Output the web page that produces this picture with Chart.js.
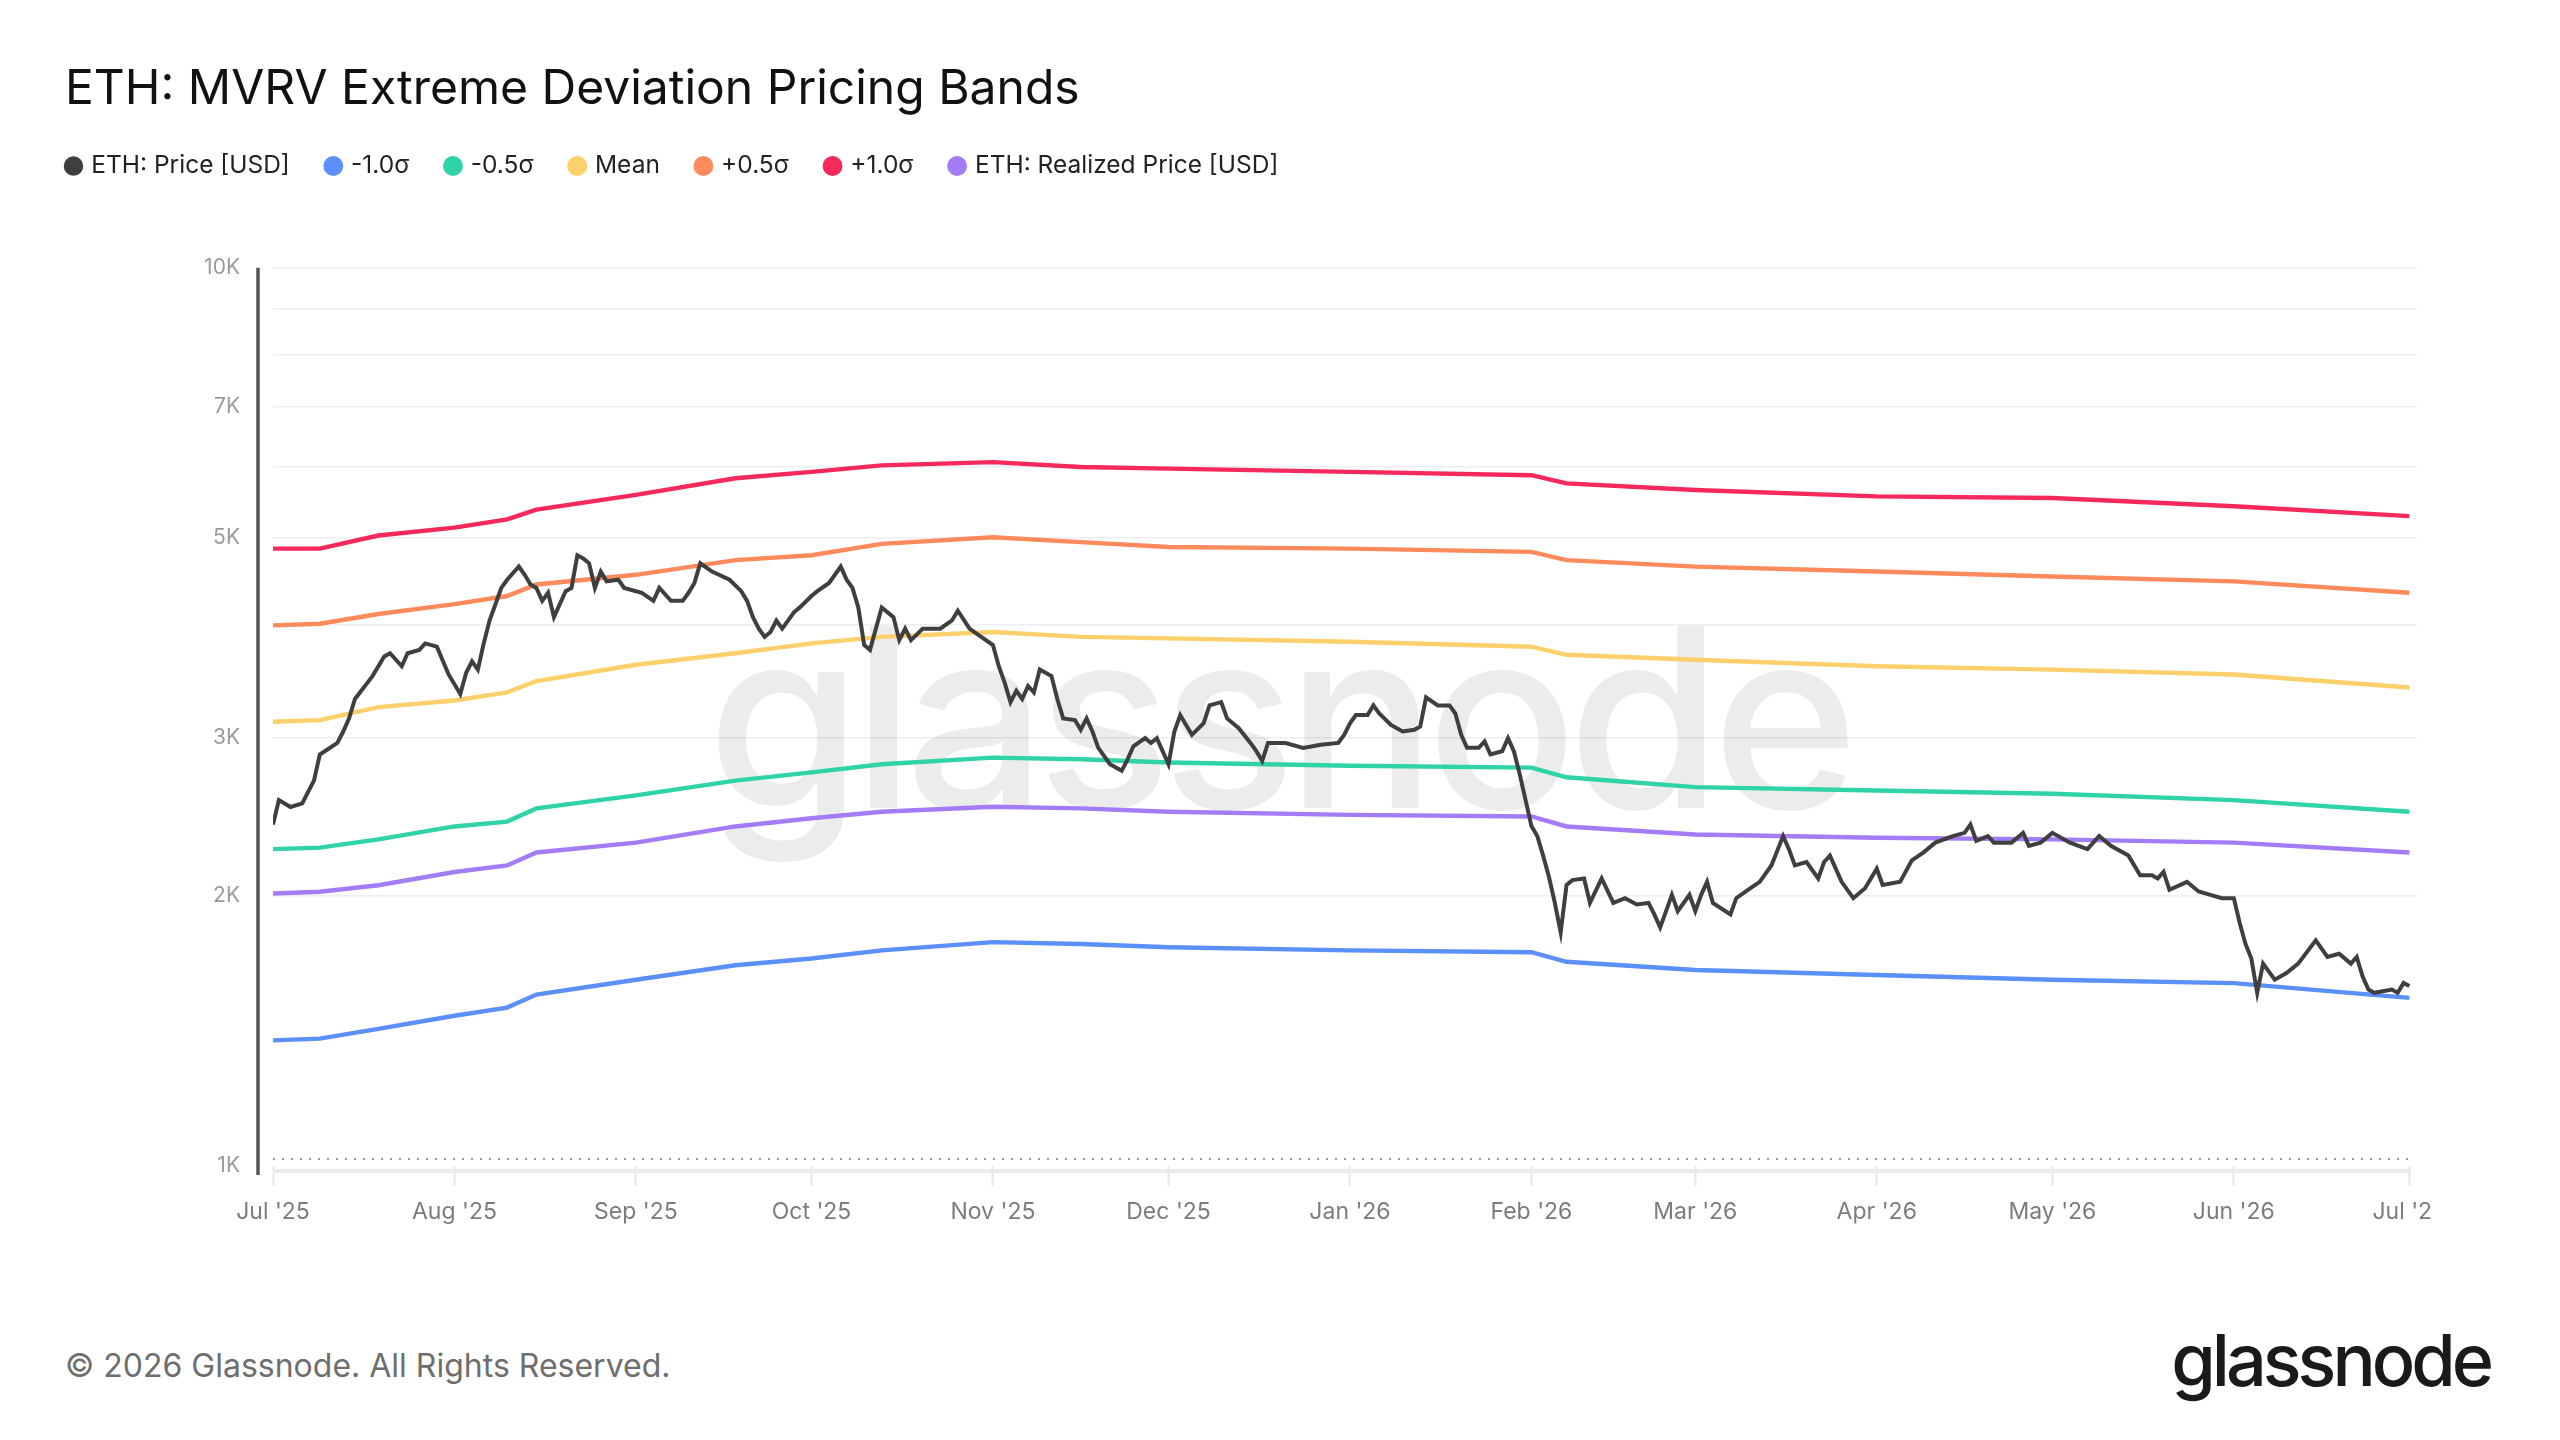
<!DOCTYPE html>
<html>
<head>
<meta charset="utf-8">
<script src="https://cdn.jsdelivr.net/npm/chart.js@4.4.1/dist/chart.umd.min.js"></script>
<style>
  html, body { margin: 0; padding: 0; background: #fff; }
  body { width: 2560px; height: 1440px; position: relative; overflow: hidden; font-family: Inter, "Noto Sans", sans-serif; }
  #box { position: absolute; left: 0; top: 0; width: 2433px; height: 1240px; }
  #copy { position: absolute; left: 65px; top: 1346px; font-size: 32px; color: #6e6e6e; }
  #logo { position: absolute; right: 70px; top: 1324px; font-size: 72px; line-height: 1; font-weight: 500; letter-spacing: -4px; color: #1a1a1a; }
</style>
</head>
<body>
<div id="box"><canvas id="grafico"></canvas></div>
<div id="copy">© 2026 Glassnode. All Rights Reserved.</div>
<div id="logo">glassnode</div>
<script>
// eixo x: dias desde 1 jul 2025
const monthDays = [0, 31, 62, 92, 123, 153, 184, 215, 243, 274, 304, 335, 365];
const monthLabels = ["Jul '25", "Aug '25", "Sep '25", "Oct '25", "Nov '25", "Dec '25", "Jan '26", "Feb '26", "Mar '26", "Apr '26", "May '26", "Jun '26", "Jul '26"];
const yGridValues = [1000, 2000, 3000, 4000, 5000, 6000, 7000, 8000, 9000, 10000];
const yTickLabels = [1000, 2000, 3000, 5000, 7000, 10000];

// bandas
const bandDays = [0, 8, 18, 31, 40, 45, 62, 79, 92, 104, 123, 138, 153, 184, 215, 221, 243, 274, 304, 335, 365];
const minus1 = [1380, 1386, 1421, 1470, 1501, 1552, 1612, 1673, 1702, 1738, 1775, 1767, 1752, 1738, 1730, 1688, 1653, 1632, 1612, 1598, 1539];
const minus05 = [2253, 2262, 2310, 2388, 2418, 2501, 2586, 2686, 2743, 2801, 2849, 2837, 2813, 2790, 2777, 2709, 2641, 2619, 2597, 2555, 2480];
const mean = [3123, 3136, 3243, 3298, 3368, 3467, 3615, 3723, 3818, 3882, 3931, 3882, 3867, 3834, 3786, 3708, 3661, 3601, 3570, 3526, 3410];
const plus05 = [3999, 4015, 4117, 4222, 4311, 4440, 4552, 4726, 4786, 4928, 5012, 4950, 4888, 4868, 4827, 4726, 4648, 4590, 4533, 4476, 4347];
const plus1 = [4868, 4868, 5034, 5138, 5248, 5381, 5588, 5830, 5927, 6026, 6077, 6001, 5976, 5927, 5876, 5754, 5658, 5566, 5542, 5426, 5291];
const realized = [2011, 2020, 2054, 2125, 2161, 2234, 2291, 2388, 2439, 2480, 2512, 2501, 2480, 2460, 2450, 2388, 2339, 2320, 2310, 2291, 2234];

// preco ETH
const priceDays = [0, 1, 3, 5, 6, 7, 8, 11, 12, 13, 14, 17, 19, 20, 22, 23, 25, 26, 28, 30, 32, 33, 34, 35, 36, 37, 39, 40, 42, 43, 44, 45, 46, 47, 48, 50, 51, 52, 53, 54, 55, 56, 57, 59, 60, 63, 65, 66, 68, 70, 71, 72, 73, 75, 78, 80, 81, 82, 83, 84, 85, 86, 87, 89, 90, 92, 93, 95, 97, 98, 99, 100, 101, 102, 103, 104, 106, 107, 108, 109, 111, 114, 116, 117, 119, 121, 123, 124, 125, 126, 127, 128, 129, 130, 131, 133, 134, 135, 137, 138, 139, 140, 141, 143, 145, 146, 147, 149, 150, 151, 153, 154, 155, 156, 157, 159, 160, 162, 163, 165, 167, 168, 169, 170, 173, 176, 179, 182, 183, 184, 185, 187, 188, 189, 191, 193, 195, 196, 197, 199, 201, 202, 203, 204, 206, 207, 208, 210, 211, 212, 213, 214, 215, 216, 217, 218, 219, 220, 221, 222, 224, 225, 227, 229, 231, 233, 235, 236, 237, 239, 240, 242, 243, 244, 245, 246, 249, 250, 252, 254, 256, 258, 259, 260, 262, 264, 265, 266, 268, 270, 272, 274, 275, 278, 280, 282, 284, 287, 289, 290, 291, 293, 294, 297, 299, 300, 302, 304, 307, 310, 312, 314, 317, 319, 321, 322, 323, 324, 327, 329, 331, 333, 335, 336, 337, 338, 339, 340, 342, 344, 346, 349, 351, 353, 355, 356, 357, 358, 359, 362, 363, 364, 365];
const priceValues = [2400, 2555, 2510, 2533, 2610, 2686, 2872, 2958, 3046, 3150, 3311, 3511, 3692, 3723, 3601, 3723, 3755, 3818, 3786, 3526, 3353, 3541, 3646, 3570, 3818, 4049, 4401, 4495, 4650, 4552, 4440, 4401, 4258, 4347, 4084, 4365, 4401, 4786, 4746, 4688, 4401, 4590, 4477, 4495, 4401, 4347, 4258, 4401, 4258, 4258, 4347, 4458, 4688, 4590, 4495, 4365, 4258, 4084, 3965, 3882, 3932, 4049, 3965, 4135, 4187, 4311, 4365, 4458, 4650, 4495, 4401, 4187, 3802, 3755, 3965, 4187, 4084, 3850, 3965, 3850, 3965, 3965, 4049, 4152, 3965, 3882, 3802, 3601, 3452, 3284, 3381, 3311, 3423, 3367, 3570, 3511, 3311, 3150, 3137, 3059, 3150, 3046, 2921, 2801, 2754, 2836, 2933, 2995, 2958, 2995, 2801, 3046, 3177, 3098, 3020, 3111, 3257, 3284, 3150, 3072, 2958, 2896, 2825, 2958, 2958, 2921, 2945, 2958, 3020, 3111, 3177, 3177, 3257, 3190, 3098, 3046, 3059, 3085, 3325, 3257, 3257, 3190, 3020, 2921, 2921, 2970, 2872, 2896, 2995, 2896, 2731, 2555, 2390, 2330, 2216, 2098, 1963, 1820, 2055, 2081, 2090, 1963, 2090, 1963, 1987, 1955, 1963, 1906, 1843, 2004, 1922, 2004, 1922, 2004, 2072, 1963, 1906, 1987, 2030, 2072, 2161, 2330, 2253, 2161, 2180, 2090, 2180, 2216, 2072, 1987, 2038, 2143, 2055, 2072, 2189, 2235, 2291, 2330, 2349, 2400, 2301, 2330, 2291, 2291, 2349, 2272, 2291, 2349, 2291, 2253, 2330, 2272, 2216, 2107, 2107, 2090, 2125, 2030, 2072, 2021, 2004, 1987, 1987, 1866, 1767, 1702, 1559, 1680, 1612, 1640, 1680, 1783, 1709, 1723, 1680, 1709, 1626, 1572, 1559, 1572, 1559, 1599, 1586];

function pontos(dias, valores) {
    return dias.map((d, i) => ({ x: d, y: valores[i] }));
}

function serie(label, dias, valores, cor, largura) {
    return {
        label: label,
        data: pontos(dias, valores),
        borderColor: cor,
        backgroundColor: cor,
        borderWidth: largura,
        pointRadius: 0,
        tension: 0
    };
}

// linhas extras: eixo y escuro, base do eixo x, linha pontilhada e marca d'agua
const decoracao = {
    id: 'decoracao',
    beforeInit(chart) {
        const legenda = chart.legend;
        const fitOriginal = legenda.fit;
        legenda.fit = function () {
            fitOriginal.call(this);
            this.height = 152;
        };
        const drawOriginal = legenda.draw;
        legenda.draw = function () {
            this.ctx.save();
            this.ctx.translate(-35, 0);
            drawOriginal.apply(this, arguments);
            this.ctx.restore();
        };
    },
    beforeDatasetsDraw(chart) {
        const { ctx, chartArea } = chart;
        ctx.save();
        ctx.font = '500 250px Inter';
        ctx.letterSpacing = '-10px';
        ctx.fillStyle = 'rgba(0,0,0,0.075)';
        ctx.textAlign = 'center';
        ctx.textBaseline = 'alphabetic';
        ctx.fillText('glassnode', chartArea.left + 1005, chartArea.top + 540);
        ctx.restore();
    },
    afterDraw(chart) {
        const { ctx, chartArea } = chart;
        ctx.save();
        // pontilhado
        ctx.strokeStyle = '#9a9a9a';
        ctx.lineWidth = 2;
        ctx.setLineDash([2, 7]);
        ctx.beginPath();
        ctx.moveTo(chartArea.left, chartArea.bottom - 7);
        ctx.lineTo(chartArea.right - 8, chartArea.bottom - 7);
        ctx.stroke();
        ctx.setLineDash([]);
        // base do eixo x
        ctx.strokeStyle = '#e9e9ee';
        ctx.lineWidth = 4;
        ctx.beginPath();
        ctx.moveTo(chartArea.left, chartArea.bottom + 5);
        ctx.lineTo(chartArea.right - 8, chartArea.bottom + 5);
        ctx.stroke();
        // eixo y
        ctx.strokeStyle = '#555555';
        ctx.lineWidth = 3.5;
        ctx.beginPath();
        ctx.moveTo(chartArea.left - 15, chartArea.top);
        ctx.lineTo(chartArea.left - 15, chartArea.bottom + 9);
        ctx.stroke();
        ctx.restore();
    }
};

new Chart(document.getElementById('grafico'), {
    type: 'line',
    data: {
        datasets: [
            serie('ETH: Price [USD]', priceDays, priceValues, '#3f3f3f', 4),
            serie('-1.0σ', bandDays, minus1, '#5b8ff9', 4.4),
            serie('-0.5σ', bandDays, minus05, '#2fd3a7', 4.4),
            serie('Mean', bandDays, mean, '#fdd06b', 4.4),
            serie('+0.5σ', bandDays, plus05, '#ff8a5c', 4.4),
            serie('+1.0σ', bandDays, plus1, '#f5295b', 4.4),
            serie('ETH: Realized Price [USD]', bandDays, realized, '#a57cf8', 4.4)
        ]
    },
    plugins: [decoracao],
    options: {
        responsive: true,
        maintainAspectRatio: false,
        animation: false,
        layout: { padding: { left: 65, right: 16, top: 0, bottom: 0 } },
        plugins: {
            tooltip: { enabled: false },
            title: {
                display: true,
                text: 'ETH: MVRV Extreme Deviation Pricing Bands',
                align: 'start',
                color: '#111111',
                font: { family: 'Inter', size: 48, weight: '400', lineHeight: 1.1 },
                padding: { top: 63, bottom: 0 }
            },
            legend: {
                display: true,
                position: 'top',
                align: 'start',
                labels: {
                    usePointStyle: true,
                    pointStyle: 'circle',
                    boxWidth: 11,
                    boxHeight: 11,
                    padding: 38,
                    color: '#222222',
                    font: { family: 'Inter', size: 24.5 }
                }
            }
        },
        scales: {
            x: {
                type: 'linear',
                min: 0,
                max: 366.3,
                afterBuildTicks: (eixo) => { eixo.ticks = monthDays.map(v => ({ value: v })); },
                afterFit: (eixo) => { eixo.height = 74; eixo.paddingLeft = 0; eixo.paddingRight = 0; },
                border: { display: false },
                grid: { drawOnChartArea: false, drawTicks: true, tickLength: 20, tickColor: '#e6e6ea', tickWidth: 2 },
                ticks: {
                    autoSkip: false,
                    maxRotation: 0,
                    padding: 12,
                    color: '#7c7c7c',
                    font: { family: 'Inter', size: 23 },
                    callback: (v) => monthLabels[monthDays.indexOf(v)] || ''
                }
            },
            y: {
                type: 'logarithmic',
                min: 1000,
                max: 10000,
                afterBuildTicks: (eixo) => { eixo.ticks = yGridValues.map(v => ({ value: v })); },
                afterFit: (eixo) => { eixo.width = 208; },
                border: { display: false },
                grid: {
                    drawTicks: false,
                    lineWidth: 1.5,
                    color: (c) => (c.tick && c.tick.value === 1000) ? 'rgba(0,0,0,0)' : '#eceef2'
                },
                ticks: {
                    autoSkip: false,
                    padding: 33,
                    color: '#9a9a9a',
                    font: { family: 'Inter', size: 21 },
                    callback: (v) => yTickLabels.includes(v) ? (v / 1000) + 'K' : ''
                }
            }
        }
    }
});
</script>
</body>
</html>
